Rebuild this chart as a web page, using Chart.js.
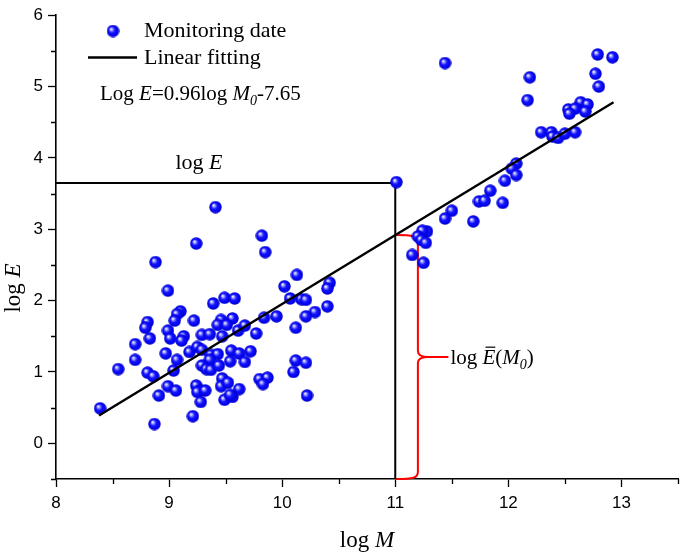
<!DOCTYPE html>
<html>
<head>
<meta charset="utf-8">
<script src="https://cdn.jsdelivr.net/npm/chart.js@4.4.1/dist/chart.umd.min.js"></script>
<style>
  html, body { margin: 0; padding: 0; background: #fff; }
  #wrap { width: 685px; height: 556px; }
</style>
</head>
<body>
<div id="wrap"><canvas id="chart" width="685" height="556"></canvas></div>
<script>
// Monitoring data (log M, log E)
const monitorX = [
  9.41, 9.82, 9.85, 9.24, 8.88, 8.99, 10.13, 10.02, 10.42, 10.40,
  9.49, 9.58, 10.07, 10.17, 10.21, 9.39, 10.40, 10.29, 10.21, 9.95,
  9.84, 10.12, 9.10, 9.07, 9.05, 8.81, 8.79, 9.22, 8.99, 9.01,
  8.83, 8.70, 8.70, 8.55, 8.39, 8.87, 9.21, 9.13, 9.11, 8.97,
  9.07, 9.04, 8.81, 8.86, 8.99, 9.06, 8.91, 9.29, 9.36, 9.46,
  9.56, 9.43, 9.51, 9.47, 9.61, 9.67, 9.77, 9.18, 9.25, 9.29,
  9.37, 9.43, 9.55, 9.62, 9.72, 9.54, 9.67, 9.36, 9.29, 9.33,
  9.37, 9.44, 9.24, 9.28, 9.25, 9.32, 9.28, 9.47, 9.46, 9.52,
  9.62, 9.49, 9.56, 9.54, 9.80, 9.87, 9.83, 10.12, 10.21, 10.10,
  10.22,
  11.44, 12.19, 12.17, 12.79, 12.92, 12.77, 12.80, 12.64, 12.70, 12.53,
  12.59, 12.54, 12.68, 12.29, 12.38, 12.39, 12.44, 12.50, 12.59, 12.07,
  12.03, 12.07, 11.97, 11.84, 11.74, 11.79, 11.95, 11.50, 11.44, 11.69,
  11.01, 11.28, 11.24, 11.20, 11.23, 11.27, 11.15, 11.25
];
const monitorY = [
  3.31, 2.91, 2.68, 2.80, 2.54, 2.14, 2.36, 2.20, 2.25, 2.17,
  2.04, 2.03, 2.03, 2.02, 2.01, 1.96, 1.92, 1.84, 1.78, 1.78,
  1.76, 1.62, 1.85, 1.81, 1.72, 1.70, 1.62, 1.72, 1.58, 1.47,
  1.47, 1.39, 1.17, 1.04, 0.49, 0.27, 0.38, 1.50, 1.44, 1.26,
  1.17, 1.02, 0.99, 0.94, 0.80, 0.74, 0.67, 1.52, 1.53, 1.73,
  1.75, 1.66, 1.66, 1.50, 1.58, 1.65, 1.54, 1.28, 1.35, 1.31,
  1.24, 1.25, 1.30, 1.26, 1.29, 1.15, 1.14, 1.17, 1.09, 1.04,
  1.03, 1.09, 0.81, 0.74, 0.72, 0.74, 0.58, 0.91, 0.80, 0.85,
  0.76, 0.61, 0.65, 0.68, 0.90, 0.92, 0.83, 1.16, 1.13, 1.00,
  0.67,
  5.33, 5.13, 4.81, 5.45, 5.41, 5.18, 5.00, 4.78, 4.75, 4.68,
  4.69, 4.62, 4.65, 4.36, 4.36, 4.30, 4.28, 4.34, 4.36, 3.92,
  3.85, 3.76, 3.68, 3.54, 3.39, 3.40, 3.37, 3.26, 3.15, 3.11,
  3.66, 2.97, 2.98, 2.90, 2.85, 2.81, 2.64, 2.53
];

// Linear fitting end points
const fitX = [8.38, 12.93];
const fitY = [0.39, 4.78];

// log E guide: from the y axis to log M = 11, then down to the x axis
const guideX = [8, 11, 11];
const guideY = [3.65, 3.65, -0.5];

// Axis ticks
const xTicks = [8, 9, 10, 11, 12, 13];
const yTicks = [0, 1, 2, 3, 4, 5, 6];
const xMinorTicks = [8.5, 9.5, 10.5, 11.5, 12.5, 13.5];
const yMinorTicks = [-0.5, 0.5, 1.5, 2.5, 3.5, 4.5, 5.5];

// Red brace for log E(M0), in data units
const braceX = 11;
const braceTop = 2.92;
const braceBottom = -0.5;
const braceSpineX = 11.2;
const braceTipX = 11.29;
const braceStemX = 11.47;

const SERIF = '"Liberation Serif", "Times New Roman", serif';
const SANS = '"Liberation Sans", Arial, sans-serif';

// Shaded blue ball used as point marker
function makeBall(d) {
  const c = document.createElement('canvas');
  c.width = d;
  c.height = d;
  const g = c.getContext('2d');
  const r = d / 2;
  const grad = g.createRadialGradient(r - 2, r - 2, 0.3, r, r, r);
  grad.addColorStop(0, '#ffffff');
  grad.addColorStop(0.18, '#9a9aff');
  grad.addColorStop(0.45, '#1414ff');
  grad.addColorStop(0.85, '#0000e6');
  grad.addColorStop(1, '#0000a8');
  g.fillStyle = grad;
  g.beginPath();
  g.arc(r, r, r - 0.3, 0, Math.PI * 2);
  g.fill();
  return c;
}
const ball = makeBall(13);

// Mixed roman / italic text helpers
function fontFor(run, size) {
  const s = run.sub ? Math.round(size * 0.68) : size;
  return (run.i ? 'italic ' : '') + s + 'px ' + SERIF;
}
function runsWidth(ctx, runs, size) {
  let w = 0;
  runs.forEach(run => {
    ctx.font = fontFor(run, size);
    w += ctx.measureText(run.t).width;
  });
  return w;
}
function drawRuns(ctx, runs, x, y, size) {
  runs.forEach(run => {
    ctx.font = fontFor(run, size);
    const dy = run.sub ? size * 0.22 : 0;
    const w = ctx.measureText(run.t).width;
    ctx.fillText(run.t, x, y + dy);
    if (run.bar) {
      ctx.save();
      ctx.strokeStyle = '#000';
      ctx.lineWidth = 1.2;
      ctx.beginPath();
      ctx.moveTo(x + 3, y - size * 0.8);
      ctx.lineTo(x + w, y - size * 0.8);
      ctx.stroke();
      ctx.restore();
    }
    x += w;
  });
}

const annotations = {
  id: 'annotations',
  beforeDatasetsDraw(chart) {
    const ctx = chart.ctx;
    const xs = chart.scales.x;
    const ys = chart.scales.y;
    const x0 = xs.getPixelForValue(braceX);
    const xSp = xs.getPixelForValue(braceSpineX);
    const xTip = xs.getPixelForValue(braceTipX);
    const xStem = xs.getPixelForValue(braceStemX);
    const yT = ys.getPixelForValue(braceTop);
    const yB = ys.getPixelForValue(braceBottom);
    const yM = (yT + yB) / 2;

    ctx.save();
    ctx.strokeStyle = '#ff0000';
    ctx.lineWidth = 2;
    ctx.beginPath();
    ctx.moveTo(x0, yT);
    ctx.bezierCurveTo(x0 + (xSp - x0) * 0.8, yT, xSp, yT + 1, xSp, yT + 7);
    ctx.lineTo(xSp, yM - 6);
    ctx.quadraticCurveTo(xSp, yM, xTip, yM);
    ctx.quadraticCurveTo(xSp, yM, xSp, yM + 6);
    ctx.lineTo(xSp, yB - 7);
    ctx.bezierCurveTo(xSp, yB - 1, x0 + (xSp - x0) * 0.8, yB, x0, yB);
    ctx.moveTo(xTip, yM);
    ctx.lineTo(xStem, yM);
    ctx.stroke();
    ctx.restore();
  },
  afterDraw(chart) {
    const ctx = chart.ctx;
    const xs = chart.scales.x;
    const ys = chart.scales.y;
    const area = chart.chartArea;

    ctx.save();
    // minor ticks
    ctx.strokeStyle = '#000';
    ctx.lineWidth = 1.3;
    ctx.beginPath();
    xMinorTicks.forEach(v => {
      const px = Math.round(xs.getPixelForValue(v)) + 0.5;
      ctx.moveTo(px, area.bottom);
      ctx.lineTo(px, area.bottom + 5);
    });
    yMinorTicks.forEach(v => {
      const py = Math.round(ys.getPixelForValue(v)) + 0.5;
      ctx.moveTo(area.left, py);
      ctx.lineTo(area.left - 5, py);
    });
    ctx.stroke();

    ctx.fillStyle = '#000';
    ctx.textBaseline = 'alphabetic';
    ctx.textAlign = 'left';

    // axis titles
    const xTitle = [{ t: 'log ' }, { t: 'M', i: true }];
    const xw = runsWidth(ctx, xTitle, 23);
    drawRuns(ctx, xTitle, (area.left + area.right) / 2 - xw / 2, 547, 23);

    const yTitle = [{ t: 'log ' }, { t: 'E', i: true }];
    const yw = runsWidth(ctx, yTitle, 23);
    ctx.save();
    ctx.translate(20, 288);
    ctx.rotate(-Math.PI / 2);
    drawRuns(ctx, yTitle, -yw / 2, 0, 23);
    ctx.restore();

    // legend
    ctx.drawImage(ball, 113 - 6.5, 31 - 6.5, 13, 13);
    ctx.beginPath();
    ctx.lineWidth = 2.4;
    ctx.moveTo(88, 57.5);
    ctx.lineTo(137, 57.5);
    ctx.stroke();
    drawRuns(ctx, [{ t: 'Monitoring date' }], 144, 37, 22);
    drawRuns(ctx, [{ t: 'Linear fitting' }], 144, 64, 22);
    drawRuns(ctx, [
      { t: 'Log ' }, { t: 'E', i: true }, { t: '=0.96log ' },
      { t: 'M', i: true }, { t: '0', i: true, sub: true }, { t: '-7.65' }
    ], 100, 100, 21);

    // log E label above the guide line
    const leRuns = [{ t: 'log ' }, { t: 'E', i: true }];
    const lew = runsWidth(ctx, leRuns, 22);
    drawRuns(ctx, leRuns, 199 - lew / 2, ys.getPixelForValue(guideY[0]) - 14, 22);

    // brace label
    const yM = (ys.getPixelForValue(braceTop) + ys.getPixelForValue(braceBottom)) / 2;
    drawRuns(ctx, [
      { t: 'log ' }, { t: 'E', i: true, bar: true }, { t: '(' },
      { t: 'M', i: true }, { t: '0', i: true, sub: true }, { t: ')' }
    ], xs.getPixelForValue(braceStemX) + 2, yM + 7, 21);
    ctx.restore();
  }
};

const axisCommon = {
  type: 'linear',
  grid: {
    display: true,
    drawOnChartArea: false,
    drawTicks: true,
    tickLength: 8,
    tickWidth: 1.3,
    color: '#000'
  },
  border: { display: true, color: '#000', width: 1.6 },
  ticks: {
    font: { family: SANS, size: 17 },
    color: '#000'
  }
};

const ctx = document.getElementById('chart').getContext('2d');
const chart = new Chart(ctx, {
  type: 'scatter',
  data: {
    datasets: [
      {
        label: 'Linear fitting',
        data: fitX.map((x, i) => ({ x: x, y: fitY[i] })),
        showLine: true,
        borderColor: '#000',
        borderWidth: 2.4,
        pointRadius: 0,
        fill: false,
        order: 0
      },
      {
        label: 'Monitoring date',
        data: monitorX.map((x, i) => ({ x: x, y: monitorY[i] })),
        pointStyle: ball,
        pointRadius: 6,
        order: 1
      },
      {
        label: 'log E guide',
        data: guideX.map((x, i) => ({ x: x, y: guideY[i] })),
        showLine: true,
        borderColor: '#000',
        borderWidth: 2,
        borderJoinStyle: 'miter',
        pointRadius: 0,
        fill: false,
        order: 2
      }
    ]
  },
  options: {
    responsive: false,
    animation: false,
    events: [],
    layout: { padding: { top: 15, right: 3, left: 0, bottom: 0 } },
    plugins: {
      legend: { display: false },
      tooltip: { enabled: false }
    },
    scales: {
      x: Object.assign({}, axisCommon, {
        min: 8,
        max: 13.5,
        ticks: Object.assign({}, axisCommon.ticks, { padding: 6 }),
        afterBuildTicks: s => { s.ticks = xTicks.map(v => ({ value: v })); },
        afterFit: s => { s.height = 77; }
      }),
      y: Object.assign({}, axisCommon, {
        min: -0.5,
        max: 6,
        ticks: Object.assign({}, axisCommon.ticks, { padding: 5 }),
        afterBuildTicks: s => { s.ticks = yTicks.map(v => ({ value: v })); },
        afterFit: s => { s.width = 56; }
      })
    }
  },
  plugins: [annotations]
});
</script>
</body>
</html>
